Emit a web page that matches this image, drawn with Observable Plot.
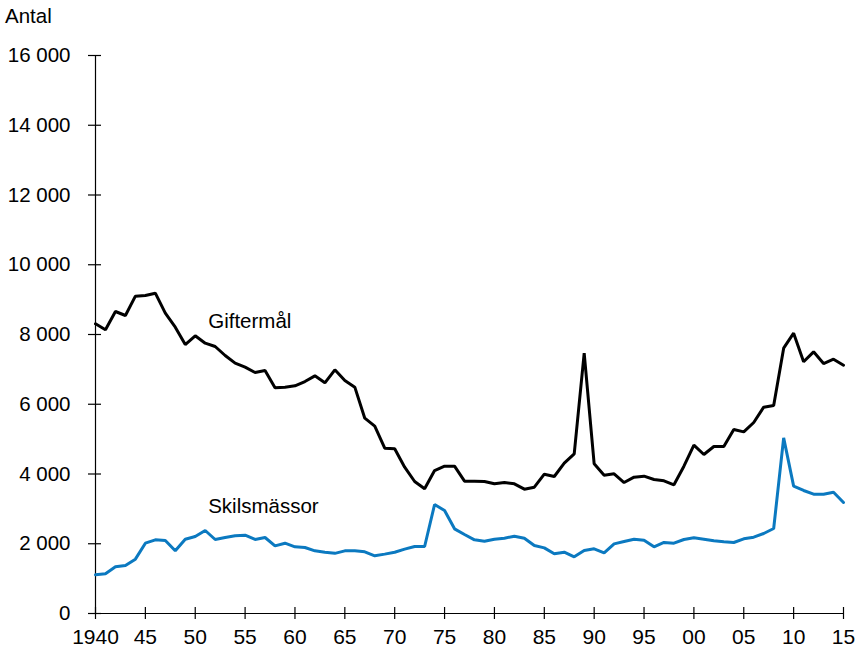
<!DOCTYPE html>
<html>
<head>
<meta charset="utf-8">
<script src="https://cdn.jsdelivr.net/npm/d3@7"></script>
<script src="https://cdn.jsdelivr.net/npm/@observablehq/plot@0.6"></script>
<style>
  body { margin: 0; background: #fff; font-family: "Liberation Sans", Arial, sans-serif; }
  #wrap { position: relative; width: 857px; height: 652px; }
  #ylabel { position: absolute; left: 5px; top: 6px; font-size: 20.5px; line-height: 20px; color: #000; }
</style>
</head>
<body>
<div id="wrap"><div id="ylabel">Antal</div><div id="chart"></div></div>
<script>
const years = d3.range(1940, 2016);
const giftermal = [
  8307, 8134, 8659, 8545, 9099, 9118, 9185, 8612, 8210, 7713,
  7962, 7751, 7656, 7398, 7178, 7063, 6910, 6968, 6471, 6490,
  6529, 6652, 6815, 6614, 6988, 6681, 6490, 5600, 5371, 4740,
  4722, 4195, 3785, 3576, 4100, 4224, 4224, 3794, 3794, 3785,
  3718, 3756, 3718, 3565, 3622, 3995, 3928, 4310, 4578, 7465,
  4291, 3966, 4005, 3756, 3909, 3938, 3842, 3804, 3690, 4224,
  4827, 4559, 4789, 4789, 5276, 5209, 5477, 5916, 5964, 7608,
  8038, 7217, 7503, 7168, 7292, 7120
];
const skilsmassor = [
  1109, 1138, 1338, 1376, 1558, 2016, 2112, 2093, 1797, 2131,
  2208, 2380, 2122, 2179, 2227, 2246, 2122, 2179, 1940, 2016,
  1912, 1892, 1797, 1758, 1725, 1797, 1797, 1768, 1654, 1702,
  1758, 1845, 1921, 1921, 3125, 2953, 2428, 2265, 2112, 2074,
  2131, 2160, 2217, 2160, 1950, 1882, 1711, 1758, 1625, 1806,
  1854, 1740, 1997, 2064, 2131, 2103, 1912, 2036, 2016, 2122,
  2170, 2131, 2084, 2055, 2036, 2141, 2189, 2294, 2437, 5037,
  3651, 3527, 3421, 3421, 3479, 3183
];
const seriesNames = ["Giftermål", "Skilsmässor"];
const seriesColors = ["#000000", "#0b79c0"];
const labelYears = [1951.3, 1951.3];
const labelValues = [8380, 3060];
const xTicks = d3.range(1940, 2016, 5);
const xTickLabels = ["1940", "45", "50", "55", "60", "65", "70", "75", "80", "85", "90", "95", "00", "05", "10", "15"];
const yTicks = d3.range(0, 16001, 2000);
const yTickLabels = ["0", "2 000", "4 000", "6 000", "8 000", "10 000", "12 000", "14 000", "16 000"];

const rows = [
  ...years.map((y, i) => ({year: y, value: giftermal[i], series: seriesNames[0]})),
  ...years.map((y, i) => ({year: y, value: skilsmassor[i], series: seriesNames[1]}))
];
const labels = seriesNames.map((s, i) => ({name: s, year: labelYears[i], value: labelValues[i]}));

const chart = Plot.plot({
  width: 857,
  height: 652,
  marginTop: 55,
  marginBottom: 39,
  marginLeft: 95,
  marginRight: 14,
  style: {fontFamily: "Liberation Sans, Arial, sans-serif", background: "#fff", color: "#000"},
  x: {domain: [1940, 2015]},
  y: {domain: [0, 16000]},
  color: {domain: seriesNames, range: seriesColors},
  marks: [
    Plot.axisY({ticks: yTicks, tickFormat: (d) => yTickLabels[yTicks.indexOf(d)], tickSize: 13, dx: 6, tickPadding: 18, fontSize: 20.5, label: null, strokeWidth: 1.2}),
    Plot.axisX({ticks: xTicks, tickFormat: (d) => xTickLabels[xTicks.indexOf(d)], tickSize: 12, dy: -6, tickPadding: 10, fontSize: 21, label: null, strokeWidth: 1.2}),
    Plot.ruleX([1940], {stroke: "#000", strokeWidth: 1.2}),
    Plot.ruleY([0], {stroke: "#000", strokeWidth: 1.2}),
    Plot.line(rows, {x: "year", y: "value", z: "series", stroke: "series", strokeWidth: 3, strokeLinejoin: "miter"}),
    Plot.text(labels, {x: "year", y: "value", text: "name", textAnchor: "start", fontSize: 20.5, fill: "#000"})
  ]
});
document.getElementById("chart").appendChild(chart);
</script>
</body>
</html>
